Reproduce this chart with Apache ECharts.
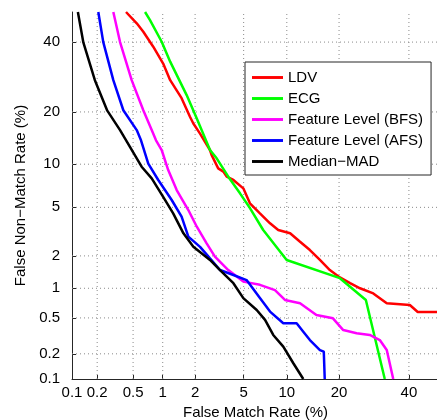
<!DOCTYPE html>
<html>
<head>
<meta charset="utf-8">
<script src="https://cdn.jsdelivr.net/npm/echarts@6/dist/echarts.min.js"></script>
<style>
html,body{margin:0;padding:0;background:#fff;}
#chart{width:437px;height:420px;}
</style>
</head>
<body>
<div id="chart"></div>
<script>
// Tick labels (percent)
const fmrTicks = [0.1, 0.2, 0.5, 1, 2, 5, 10, 20, 40];
const fnmrTicks = [0.1, 0.2, 0.5, 1, 2, 5, 10, 20, 40];
const axisMinPct = 0.1;
const axisMaxPct = 50;

const seriesNames = ['LDV', 'ECG', 'Feature Level (BFS)', 'Feature Level (AFS)', 'Median\u2212MAD'];
const seriesColors = ['#ff0000', '#00ff00', '#ff00ff', '#0000ff', '#000000'];

// [FMR %, FNMR %]
const ldv = [[0.42,50],[0.546,46.2],[0.639,43.4],[0.806,38.5],[1.01,33.2],[1.18,28.3],[1.51,23.4],[1.80,18.9],[1.93,17.4],[2.21,15.3],[2.69,12.26],[2.78,11.4],[3.15,9.40],[3.47,8.94],[3.69,8.28],[4.17,7.86],[4.97,6.88],[5.57,5.36],[6.58,4.50],[7.74,3.76],[8.79,3.32],[10.5,3.12],[12.1,2.65],[13.85,2.25],[15.8,1.84],[17.9,1.49],[20.2,1.27],[22.7,1.12],[25.3,1.0],[29.0,0.89],[33.0,0.708],[40.3,0.68],[42.9,0.577],[50,0.577]];
const ecg = [[0.666,50],[0.748,47.3],[0.977,40.1],[1.18,33.8],[1.68,24.2],[2.07,18.5],[2.52,13.7],[2.69,12.26],[3.06,10.9],[3.80,8.28],[4.69,6.34],[5.57,4.94],[6.94,3.32],[9.98,1.84],[20.2,1.25],[26.9,0.766],[32.4,0.1]];
const bfs = [[0.305,50],[0.362,40],[0.483,28.3],[0.639,20.4],[0.778,16.0],[0.859,14.0],[0.977,12.26],[1.13,9.16],[1.36,6.69],[1.74,4.77],[2.07,3.53],[2.52,2.57],[2.96,1.97],[3.80,1.49],[4.97,1.16],[6.58,1.08],[8.36,0.96],[9.73,0.766],[12.1,0.708],[15.1,0.537],[18.6,0.495],[21.0,0.370],[24.4,0.342],[28.0,0.327],[30.9,0.287],[33.0,0.221],[35.0,0.1]];
const afs = [[0.206,50],[0.235,40],[0.305,28.3],[0.393,20.4],[0.546,16.0],[0.605,14.0],[0.718,10.1],[0.904,7.86],[1.22,5.67],[1.51,4.24],[1.74,2.93],[2.21,2.40],[2.69,1.90],[3.26,1.49],[4.17,1.34],[5.26,1.20],[6.58,0.80],[7.74,0.582],[9.49,0.438],[11.53,0.438],[12.66,0.355],[13.85,0.287],[15.8,0.221],[16.6,0.212],[16.8,0.1]];
const medianMad = [[0.118,50],[0.137,40],[0.188,28.3],[0.261,20.3],[0.362,16.0],[0.463,12.8],[0.614,9.63],[0.778,8.06],[1.01,5.98],[1.26,4.50],[1.57,3.12],[1.93,2.40],[2.69,1.84],[3.26,1.49],[4.17,1.12],[4.97,0.80],[6.24,0.605],[7.15,0.476],[8.14,0.327],[9.49,0.242],[11.0,0.155],[12.66,0.1]];

const seriesData = [ldv, ecg, bfs, afs, medianMad];

// Inverse normal CDF (Acklam)
function probit(p){
  const a=[-3.969683028665376e+01,2.209460984245205e+02,-2.759285104469687e+02,1.383577518672690e+02,-3.066479806614716e+01,2.506628277459239e+00];
  const b=[-5.447609879822406e+01,1.615858368580409e+02,-1.556989798598866e+02,6.680131188771972e+01,-1.328068155288572e+01];
  const c=[-7.784894002430293e-03,-3.223964580411365e-01,-2.400758277161838e+00,-2.549671348980543e+00,4.374664141464968e+00,2.938163982698783e+00];
  const d=[7.784695709041462e-03,3.224671290700398e-01,2.445134137142996e+00,3.754408661907416e+00];
  const plow=0.02425, phigh=1-plow;
  if(p<plow){const q=Math.sqrt(-2*Math.log(p));return (((((c[0]*q+c[1])*q+c[2])*q+c[3])*q+c[4])*q+c[5])/((((d[0]*q+d[1])*q+d[2])*q+d[3])*q+1);}
  if(p<=phigh){const q=p-0.5,r=q*q;return (((((a[0]*r+a[1])*r+a[2])*r+a[3])*r+a[4])*r+a[5])*q/(((((b[0]*r+b[1])*r+b[2])*r+b[3])*r+b[4])*r+1);}
  const q=Math.sqrt(-2*Math.log(1-p));return -(((((c[0]*q+c[1])*q+c[2])*q+c[3])*q+c[4])*q+c[5])/((((d[0]*q+d[1])*q+d[2])*q+d[3])*q+1);
}
const P = pct => probit(pct/100);

function labelFor(ticks){
  return function(v){
    let best = ticks[0], bd = Infinity;
    ticks.forEach(t => { const dd = Math.abs(P(t) - v); if (dd < bd) { bd = dd; best = t; } });
    return String(best);
  };
}

const FONT = "'Liberation Sans', Arial, Helvetica, sans-serif";
const X_MIN = P(axisMinPct), X_MAX = P(axisMaxPct);

function makeAxis(ticks, isX){
  const vals = ticks.map(P);
  return {
    type: 'value',
    min: X_MIN,
    max: X_MAX,
    axisLine: { show: true, onZero: false, lineStyle: { color: '#262626', width: 1 } },
    axisTick: { show: true, inside: true, length: 4, customValues: vals, lineStyle: { color: '#262626' } },
    axisLabel: { customValues: vals, formatter: labelFor(ticks), color: '#000', fontSize: 15, fontFamily: FONT, margin: isX ? 6 : 12, hideOverlap: false, showMinLabel: true, showMaxLabel: true },
    splitLine: { show: false },
    name: isX ? 'False Match Rate (%)' : 'False Non\u2212Match Rate (%)',
    nameLocation: 'middle',
    nameGap: isX ? 19 : 41,
    nameTextStyle: { color: '#000', fontSize: 15, fontFamily: FONT }
  };
}

// Dotted grid lines at the tick values (skip the one lying on the axis)
const gridStyle = { color: '#8a8a8a', width: 1, type: [1, 3], opacity: 1 };
const gridSeries = [];
fmrTicks.slice(1).forEach((t, k) => gridSeries.push({
  id: 'gx' + k, name: 'gx' + k,
  type: 'line', showSymbol: false, symbol: 'none', z: 1, animation: false,
  lineStyle: gridStyle, itemStyle: { color: '#8a8a8a' },
  data: [[P(t), X_MIN], [P(t), X_MAX]]
}));
fnmrTicks.slice(1).forEach((t, k) => gridSeries.push({
  id: 'gy' + k, name: 'gy' + k,
  type: 'line', showSymbol: false, symbol: 'none', z: 1, animation: false,
  lineStyle: gridStyle, itemStyle: { color: '#8a8a8a' },
  data: [[X_MIN, P(t)], [X_MAX, P(t)]]
}));

const lineSeries = seriesData.map((arr, i) => ({
  name: seriesNames[i],
  type: 'line',
  symbol: 'none',
  clip: true,
  z: 3,
  color: seriesColors[i],
  lineStyle: { color: seriesColors[i], width: 2.5 },
  data: arr.map(pt => [P(pt[0]), P(pt[1])])
}));

const chart = echarts.init(document.getElementById('chart'), null, { renderer: 'canvas' });
chart.setOption({
  animation: false,
  backgroundColor: '#fff',
  grid: { left: 72, top: 12, width: 367, height: 367, containLabel: false, outerBoundsMode: 'none' },
  xAxis: makeAxis(fmrTicks, true),
  yAxis: makeAxis(fnmrTicks, false),
  legend: {
    orient: 'vertical',
    left: 245, top: 62,
    padding: [8, 8, 6, 7],
    itemGap: 6,
    itemWidth: 31, itemHeight: 14,
    icon: 'path://M0,0H32V3H0Z',
    backgroundColor: '#fff',
    borderColor: '#262626', borderWidth: 1, borderRadius: 0,
    textStyle: { color: '#000', fontSize: 15, fontFamily: FONT, lineHeight: 14 },
    data: seriesNames
  },
  series: gridSeries.concat(lineSeries)
});
</script>
</body>
</html>
